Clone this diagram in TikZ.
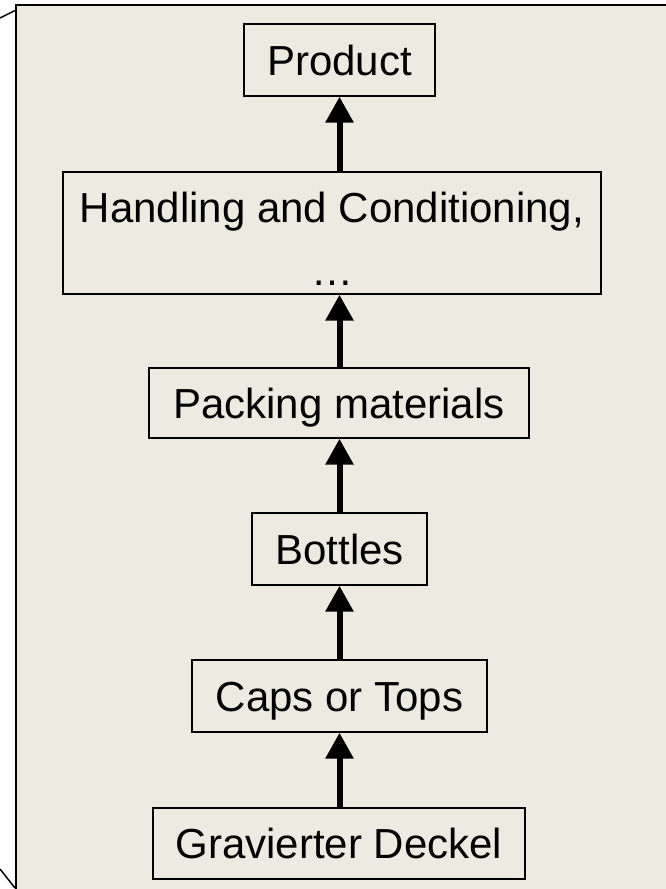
\documentclass[tikz,border=0pt]{standalone}
\usepackage{fontspec}
\setmainfont{Liberation Sans}
\usetikzlibrary{arrows.meta}
\definecolor{panel}{RGB}{237,235,225}
\tikzset{
  stagebox/.style={draw=black, line width=1.4pt, fill=panel, inner sep=0pt,
    align=center, font=\fontsize{42}{63}\selectfont},
  oneline/.style={stagebox, text height=30pt, text depth=0pt},
  flow/.style={line width=6pt, -{Triangle[width=27pt,length=26pt]}}
}
\begin{document}
\begin{tikzpicture}[x=1pt,y=-1pt]
  \useasboundingbox (0,0) rectangle (666,889);
  % background panel with its edges
  \begin{scope}
    \clip (0,0) rectangle (666,889);
    \fill[panel] (16,5) rectangle (700,920);
    \draw[line width=2.7pt] (16,920) -- (16,5) -- (700,5);
    \draw[line width=1.5pt] (16,10) -- (0,18);
    \draw[line width=1.5pt] (15,888) -- (0,869);
  \end{scope}
  % stages
  \node[oneline, minimum width=191pt, minimum height=72pt] (product) at (339.5,60) {Product};
  \node[stagebox, minimum width=538pt, minimum height=122pt] (handling) at (332,233)
    {\rule{0pt}{41pt}Handling and Conditioning,\\…};
  \node[oneline, minimum width=380pt, minimum height=70pt] (packing) at (339,403) {Packing materials};
  \node[oneline, minimum width=175pt, minimum height=72pt] (bottles) at (339.5,549) {Bottles};
  \node[oneline, minimum width=295pt, minimum height=72pt] (caps) at (339.5,696) {Caps or Tops};
  \node[oneline, minimum width=372pt, minimum height=71pt] (deckel) at (339,843.5) {Gravierter Deckel};
  % flow arrows
  \draw[flow] (deckel.north -| caps.south) -- (caps.south);
  \draw[flow] (caps.north) -- (bottles.south);
  \draw[flow] (bottles.north) -- (packing.south -| bottles.north);
  \draw[flow] (packing.north -| bottles.north) -- (handling.south -| bottles.north);
  \draw[flow] (handling.north -| product.south) -- (product.south);
\end{tikzpicture}
\end{document}
